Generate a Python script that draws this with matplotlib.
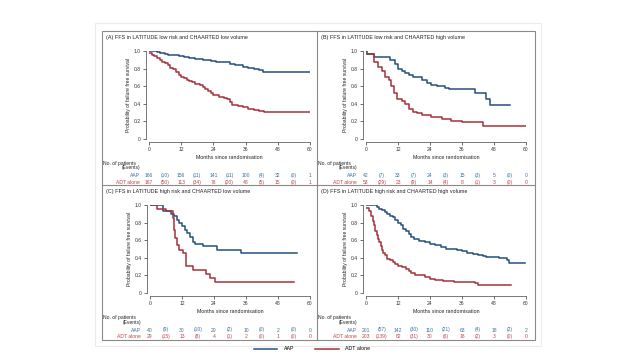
import matplotlib.pyplot as plt
from matplotlib.transforms import blended_transform_factory
from matplotlib.lines import Line2D
from matplotlib.patches import Rectangle

plt.rcParams['font.family'] = ['Liberation Sans', 'DejaVu Sans']

# colours
blue = '#24507f'
red = '#a3323a'
blue_txt = '#3c6ea6'
red_txt = '#c0454a'

# step data (months, survival)
A_aap_t = [0, 3, 4, 6, 7, 9, 11, 13, 15, 17, 20, 23, 25, 28, 30, 32, 35, 37, 39, 41, 42.5, 60]
A_aap_s = [1.0, 0.99, 0.98, 0.97, 0.96, 0.95, 0.94, 0.93, 0.92, 0.91, 0.90, 0.89, 0.88, 0.87, 0.85, 0.84, 0.82, 0.81, 0.80, 0.78, 0.76, 0.76]
A_adt_t = [0, 1, 2, 3, 4, 5, 6, 7, 8, 9, 10, 11, 12, 13, 14, 15, 16, 17, 18, 19, 20, 21, 22, 23, 24, 26, 28, 29, 30, 31, 33, 35, 37, 39, 41, 43, 60]
A_adt_s = [0.98, 0.96, 0.94, 0.92, 0.90, 0.88, 0.86, 0.84, 0.81, 0.79, 0.76, 0.73, 0.71, 0.69, 0.67, 0.66, 0.65, 0.63, 0.62, 0.61, 0.59, 0.57, 0.55, 0.52, 0.50, 0.48, 0.47, 0.45, 0.42, 0.385, 0.38, 0.36, 0.34, 0.33, 0.32, 0.31, 0.31]

B_aap_t = [0, 0.5, 3, 9, 11, 12, 13.5, 14.5, 16, 17.5, 21, 23, 24.5, 26.5, 29.5, 31, 41, 45, 46.5, 54]
B_aap_s = [1.0, 0.97, 0.93, 0.90, 0.85, 0.80, 0.77, 0.75, 0.73, 0.70, 0.67, 0.64, 0.61, 0.60, 0.58, 0.565, 0.52, 0.45, 0.39, 0.39]
B_adt_t = [0, 3, 4.5, 6, 7, 8.5, 9.5, 10.5, 11.5, 13.5, 14.5, 16, 17.5, 19, 21, 24.5, 28.5, 32, 36, 44, 60]
B_adt_s = [0.97, 0.88, 0.82, 0.77, 0.71, 0.67, 0.60, 0.52, 0.45, 0.43, 0.40, 0.34, 0.31, 0.29, 0.27, 0.25, 0.23, 0.21, 0.19, 0.15, 0.15]

C_aap_t = [0, 5, 8, 9, 10, 11, 12, 13, 14, 15, 16, 17, 20, 25, 34, 55]
C_aap_s = [1.0, 0.93, 0.90, 0.87, 0.83, 0.80, 0.76, 0.72, 0.68, 0.64, 0.58, 0.56, 0.53, 0.49, 0.455, 0.455]
C_adt_t = [0, 2.5, 6, 8.5, 9, 9.5, 10, 11, 12.5, 13.5, 16, 21, 22.5, 24.5, 54]
C_adt_s = [1.0, 0.96, 0.93, 0.85, 0.72, 0.62, 0.55, 0.49, 0.45, 0.31, 0.26, 0.22, 0.17, 0.13, 0.13]

D_aap_t = [0, 4, 5, 6, 7, 8, 9, 10, 11, 12, 13, 14, 15, 16, 17, 18, 20, 22, 24, 26, 28, 30, 32, 34, 36, 38, 40, 42, 44, 45, 50, 53, 53.5, 59.5]
D_aap_s = [1.0, 0.98, 0.96, 0.94, 0.92, 0.90, 0.88, 0.86, 0.83, 0.80, 0.77, 0.73, 0.70, 0.67, 0.64, 0.61, 0.59, 0.575, 0.56, 0.54, 0.52, 0.505, 0.495, 0.485, 0.475, 0.46, 0.445, 0.43, 0.415, 0.405, 0.395, 0.38, 0.34, 0.34]
D_adt_t = [0, 1, 2, 2.5, 3, 3.5, 4, 4.5, 5, 5.5, 6, 6.5, 7, 8, 9, 10, 11, 12, 13.5, 15, 16, 17, 18.5, 20, 22, 24, 26, 29, 33, 37, 41, 42, 54.5]
D_adt_s = [0.97, 0.93, 0.87, 0.82, 0.77, 0.71, 0.66, 0.61, 0.58, 0.53, 0.49, 0.46, 0.43, 0.39, 0.37, 0.35, 0.33, 0.31, 0.29, 0.27, 0.25, 0.23, 0.21, 0.20, 0.18, 0.16, 0.145, 0.14, 0.13, 0.125, 0.11, 0.095, 0.095]

# numbers at risk (at 0,12,..,60) and events (in between)
A_aap_risk = ['166', '(10)', '156', '(11)', '141', '(11)', '100', '(4)', '32', '(0)', '1']
A_adt_risk = ['167', '(50)', '113', '(34)', '78', '(20)', '48', '(5)', '15', '(0)', '1']
B_aap_risk = ['42', '(7)', '33', '(7)', '24', '(3)', '15', '(3)', '5', '(0)', '0']
B_adt_risk = ['53', '(29)', '23', '(9)', '14', '(4)', '8', '(1)', '3', '(0)', '0']
C_aap_risk = ['40', '(9)', '30', '(10)', '20', '(2)', '10', '(0)', '2', '(0)', '0']
C_adt_risk = ['29', '(15)', '13', '(8)', '4', '(1)', '2', '(0)', '1', '(0)', '0']
D_aap_risk = ['201', '(57)', '142', '(30)', '110', '(21)', '63', '(4)', '18', '(2)', '2']
D_adt_risk = ['203', '(139)', '62', '(31)', '30', '(6)', '18', '(2)', '3', '(0)', '0']
risk_x = [0, 6, 12, 18, 24, 30, 36, 42, 48, 54, 60]

titles = ['(A) FFS in LATITUDE low risk and CHAARTED low volume',
          '(B) FFS in LATITUDE low risk and CHAARTED high volume',
          '(C) FFS in LATITUDE high risk and CHAARTED low volume',
          '(D) FFS in LATITUDE high risk and CHAARTED high volume']

W, H = 640, 360
fig = plt.figure(figsize=(6.4, 3.6), dpi=100)

def fx(x):
    return x / W

def fy(y):
    return 1 - y / H

# outer faint frame and panel grid
fig.add_artist(Rectangle((fx(95), fy(346)), fx(541) - fx(95), fy(23) - fy(346),
                         transform=fig.transFigure, fill=False, ec='#ececec', lw=0.8))
fig.add_artist(Rectangle((fx(102), fy(340)), fx(535) - fx(102), fy(31) - fy(340),
                         transform=fig.transFigure, fill=False, ec='#8a8a8a', lw=0.8))
fig.add_artist(Line2D([fx(317), fx(317)], [fy(31), fy(340)], transform=fig.transFigure, color='#8a8a8a', lw=0.8))
fig.add_artist(Line2D([fx(102), fx(535)], [fy(185.5), fy(185.5)], transform=fig.transFigure, color='#8a8a8a', lw=0.8))

# layout per panel: x of 0, x of 60, y of 1.0, y of 0, left edge of panel, row offset
layout = [(149, 310, 51, 139, 102, 0),
          (366, 526, 51, 139, 317, 0),
          (150, 310, 205, 293, 102, 154.3),
          (366, 526, 205, 293, 317, 154.3)]

curves = [(A_aap_t, A_aap_s, A_adt_t, A_adt_s, A_aap_risk, A_adt_risk),
          (B_aap_t, B_aap_s, B_adt_t, B_adt_s, B_aap_risk, B_adt_risk),
          (C_aap_t, C_aap_s, C_adt_t, C_adt_s, C_aap_risk, C_adt_risk),
          (D_aap_t, D_aap_s, D_adt_t, D_adt_s, D_aap_risk, D_adt_risk)]

for (x0, x1, y1, y0, pl, dy), (at, as_, dt, ds, ar, dr), title in zip(layout, curves, titles):
    ax = fig.add_axes([fx(x0), fy(y0), fx(x1) - fx(x0), fy(y1) - fy(y0)])
    ax.step(at, as_, where='post', color=blue, lw=1.1)
    ax.step(dt, ds, where='post', color=red, lw=1.1)
    ax.set_xlim(0, 60)
    ax.set_ylim(0, 1)
    ax.set_xticks(range(0, 61, 12))
    ax.set_yticks([0, 0.2, 0.4, 0.6, 0.8, 1.0])
    ax.set_yticklabels(['0', '0.2', '0.4', '0.6', '0.8', '1.0'], rotation=90, va='center')
    ax.tick_params(labelsize=3.6, length=2, width=0.5, pad=1.2, colors='#333333')
    for s in ['top', 'right']:
        ax.spines[s].set_visible(False)
    for s in ['left', 'bottom']:
        ax.spines[s].set_position(('outward', 2.5))
        ax.spines[s].set_linewidth(0.5)
        ax.spines[s].set_color('#444444')
    ax.patch.set_alpha(0)
    ax.set_xlabel('Months since randomisation', fontsize=3.8, labelpad=2, color='#222222')
    ax.set_ylabel('Probability of failure free survival', fontsize=3.6, labelpad=2, color='#222222')

    fig.text(fx(pl + 4), fy(37 + dy), title, fontsize=3.9, va='center', ha='left', color='#222222')

    # risk table
    lab_x = x0 - 9
    fig.text(fx(pl + 1), fy(163.5 + dy), 'No. of patients', fontsize=3.6, va='center', color='#222222')
    fig.text(fx(lab_x), fy(168 + dy), '(Events)', fontsize=3.6, va='center', ha='right', color='#222222')
    fig.text(fx(lab_x), fy(175.7 + dy), 'AAP', fontsize=3.6, va='center', ha='right', color=blue_txt)
    fig.text(fx(lab_x), fy(182.3 + dy), 'ADT alone', fontsize=3.6, va='center', ha='right', color=red_txt)
    tr = blended_transform_factory(ax.transData, fig.transFigure)
    for xv, a, d in zip(risk_x, ar, dr):
        ax.text(xv, fy(175.7 + dy), a, transform=tr, fontsize=3.6, ha='center', va='center', color=blue_txt)
        ax.text(xv, fy(182.3 + dy), d, transform=tr, fontsize=3.6, ha='center', va='center', color=red_txt)

handles = [Line2D([], [], color=blue, lw=1.1), Line2D([], [], color=red, lw=1.1)]
fig.legend(handles, ['AAP', 'ADT alone'], loc='center', bbox_to_anchor=(fx(312), fy(349)),
           ncol=2, frameon=False, fontsize=3.8, handlelength=4.5, columnspacing=4, handletextpad=1.2)

fig.savefig('out.png', dpi=100)
